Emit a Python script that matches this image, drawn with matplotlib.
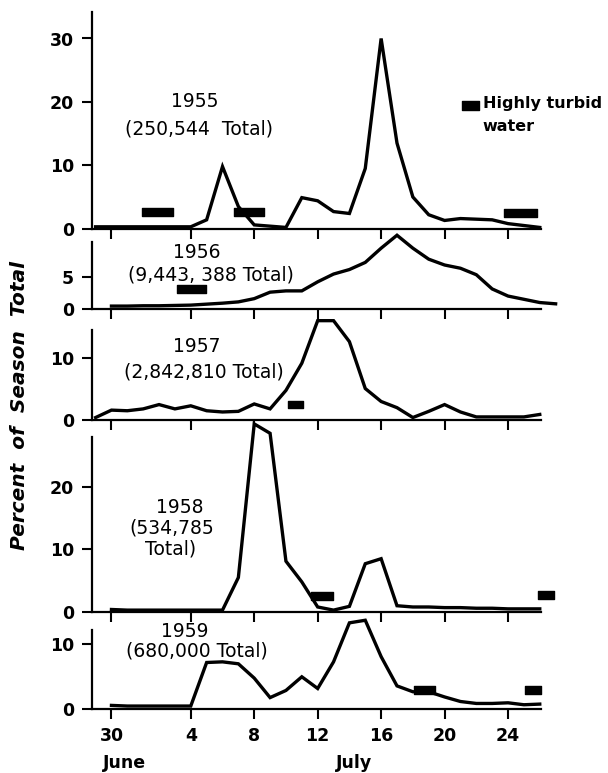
import matplotlib
matplotlib.use("Agg")
import matplotlib.pyplot as plt

## ---- daily percent of season total, by year (x = July day, -1 drawn under the "30" June tick) ---- ##

days_1955 = list(range(-2, 27))
pct_1955 = [0.3, 0.3, 0.3, 0.3, 0.3, 0.3, 0.3, 1.4, 9.8, 3.5, 0.6, 0.4, 0.2, 4.9, 4.4,
            2.7, 2.4, 9.5, 30.0, 13.5, 5.0, 2.2, 1.3, 1.6, 1.5, 1.4, 0.8, 0.5, 0.2]

days_1956 = list(range(-1, 28))
pct_1956 = [0.45, 0.45, 0.5, 0.5, 0.55, 0.6, 0.75, 0.9, 1.1, 1.6, 2.6, 2.8, 2.8, 4.2, 5.4,
            6.1, 7.2, 9.4, 11.4, 9.4, 7.7, 6.8, 6.3, 5.3, 3.1, 2.0, 1.5, 1.0, 0.8]

days_1957 = list(range(-2, 27))
pct_1957 = [0.4, 1.6, 1.5, 1.8, 2.5, 1.8, 2.3, 1.5, 1.3, 1.4, 2.6, 1.8, 4.8, 9.2, 16.1,
            16.1, 12.7, 5.1, 3.0, 2.0, 0.4, 1.4, 2.5, 1.3, 0.5, 0.5, 0.5, 0.5, 0.9]

days_1958 = list(range(-1, 27))
pct_1958 = [0.4, 0.3, 0.3, 0.3, 0.3, 0.3, 0.3, 0.3, 5.5, 30.0, 28.5, 8.1, 4.8, 0.8, 0.3,
            0.9, 7.7, 8.5, 1.0, 0.8, 0.8, 0.7, 0.7, 0.6, 0.6, 0.5, 0.5, 0.5]

days_1959 = list(range(-1, 27))
pct_1959 = [0.6, 0.5, 0.5, 0.5, 0.5, 0.5, 7.2, 7.3, 7.0, 4.8, 1.8, 2.9, 5.0, 3.2, 7.3,
            13.3, 13.7, 8.1, 3.6, 2.7, 2.7, 1.9, 1.2, 0.9, 0.9, 1.0, 0.7, 0.8]

# highly turbid water periods: (start day, end day, level drawn at)
turbid_1955 = [(0.9, 2.85, 2.6), (6.75, 8.6, 2.6), (23.75, 25.8, 2.5)]
turbid_1956 = [(3.15, 4.95, 3.1)]
turbid_1957 = [(10.1, 11.05, 2.5)]
turbid_1958 = [(11.55, 12.95, 2.5), (25.9, 26.9, 2.7)]
turbid_1959 = [(18.1, 19.4, 3.0), (25.1, 26.1, 2.9)]

# year labels: (text, x, y)
labels_1955 = [("1955", 4.25, 20.0), ("(250,544  Total)", 4.5, 15.8)]
labels_1956 = [("1956", 4.4, 8.7), ("(9,443, 388 Total)", 5.3, 5.3)]
labels_1957 = [("1957", 4.4, 11.9), ("(2,842,810 Total)", 4.85, 7.8)]
labels_1958 = [("1958", 3.3, 16.6), ("(534,785", 2.8, 13.4), ("Total)", 2.7, 10.0)]
labels_1959 = [("1959", 3.6, 11.9), ("(680,000 Total)", 4.4, 8.9)]

tick_days = [-1, 4, 8, 12, 16, 20, 24]
tick_names = ["30", "4", "8", "12", "16", "20", "24"]

# panel geometry in pixels: y of zero line, pixels per unit, y top limit, spine top, y ticks
panels = [
    (days_1955, pct_1955, turbid_1955, labels_1955, 228.7, 6.34, 34.2, 34.2, [0, 10, 20, 30]),
    (days_1956, pct_1956, turbid_1956, labels_1956, 309.0, 6.47, 11.5, 10.4, [0, 5]),
    (days_1957, pct_1957, turbid_1957, labels_1957, 420.0, 6.17, 16.3, 14.6, [0, 10]),
    (days_1958, pct_1958, turbid_1958, labels_1958, 612.0, 6.27, 30.2, 27.9, [0, 10, 20]),
    (days_1959, pct_1959, turbid_1959, labels_1959, 709.3, 6.5, 14.0, 12.2, [0, 10]),
]

W, H = 608, 773
x0, x1 = -2.22, 27.2
px_left, px_right = 92.1, 558.8

fig = plt.figure(figsize=(W / 100, H / 100), dpi=100)

axes = []
for days, pct, turbid, labels, zero_px, ppu, ytop, spine_top, yt in panels:
    top_px = zero_px - ytop * ppu
    ax = fig.add_axes([px_left / W, 1 - zero_px / H, (px_right - px_left) / W, (zero_px - top_px) / H])
    ax.plot(days, pct, color="black", lw=2.4, solid_joinstyle="miter", clip_on=False, zorder=3)
    for start, end, lvl in turbid:
        ax.broken_barh([(start, end - start)], (lvl - 0.62, 1.25), color="black", zorder=4)
    for txt, tx, ty in labels:
        ax.text(tx, ty, txt, ha="center", va="center", fontsize=13.5, color="black")
    ax.set_xlim(x0, x1)
    ax.set_ylim(0, ytop)
    ax.spines["top"].set_visible(False)
    ax.spines["right"].set_visible(False)
    ax.spines["left"].set_bounds(0, spine_top)
    ax.spines["bottom"].set_bounds(x0, 26.1)
    for s in ("left", "bottom"):
        ax.spines[s].set_linewidth(1.6)
    ax.set_xticks(tick_days)
    ax.set_yticks(yt)
    ax.set_yticklabels([str(v) for v in yt], fontsize=12.5, fontweight="bold")
    ax.tick_params(axis="both", direction="out", length=7, width=1.5)
    ax.tick_params(axis="y", pad=6)
    ax.set_xticklabels([])
    ax.patch.set_visible(False)
    axes.append(ax)

axes[-1].set_xticklabels(tick_names, fontsize=12.5, fontweight="bold")
axes[-1].tick_params(axis="x", pad=6)
axes[-1].text(-0.15, -8.3, "June", ha="center", va="center", fontsize=12.5, fontweight="bold", clip_on=False)
axes[-1].text(14.3, -8.3, "July", ha="center", va="center", fontsize=12.5, fontweight="bold", clip_on=False)

# legend for turbid water
ax = axes[0]
ax.broken_barh([(21.1, 1.1)], (19.4 - 0.7, 1.4), color="black", clip_on=False)
ax.text(22.4, 19.8, "Highly turbid", ha="left", va="center", fontsize=11.5, fontweight="bold", clip_on=False)
ax.text(22.4, 16.1, "water", ha="left", va="center", fontsize=11.5, fontweight="bold", clip_on=False)

fig.text(20 / W, 1 - 406 / H, "Percent  of  Season  Total", rotation=90, ha="center", va="center",
         fontsize=14.5, fontstyle="italic", fontweight="bold")

fig.savefig("out.png", dpi=100)
